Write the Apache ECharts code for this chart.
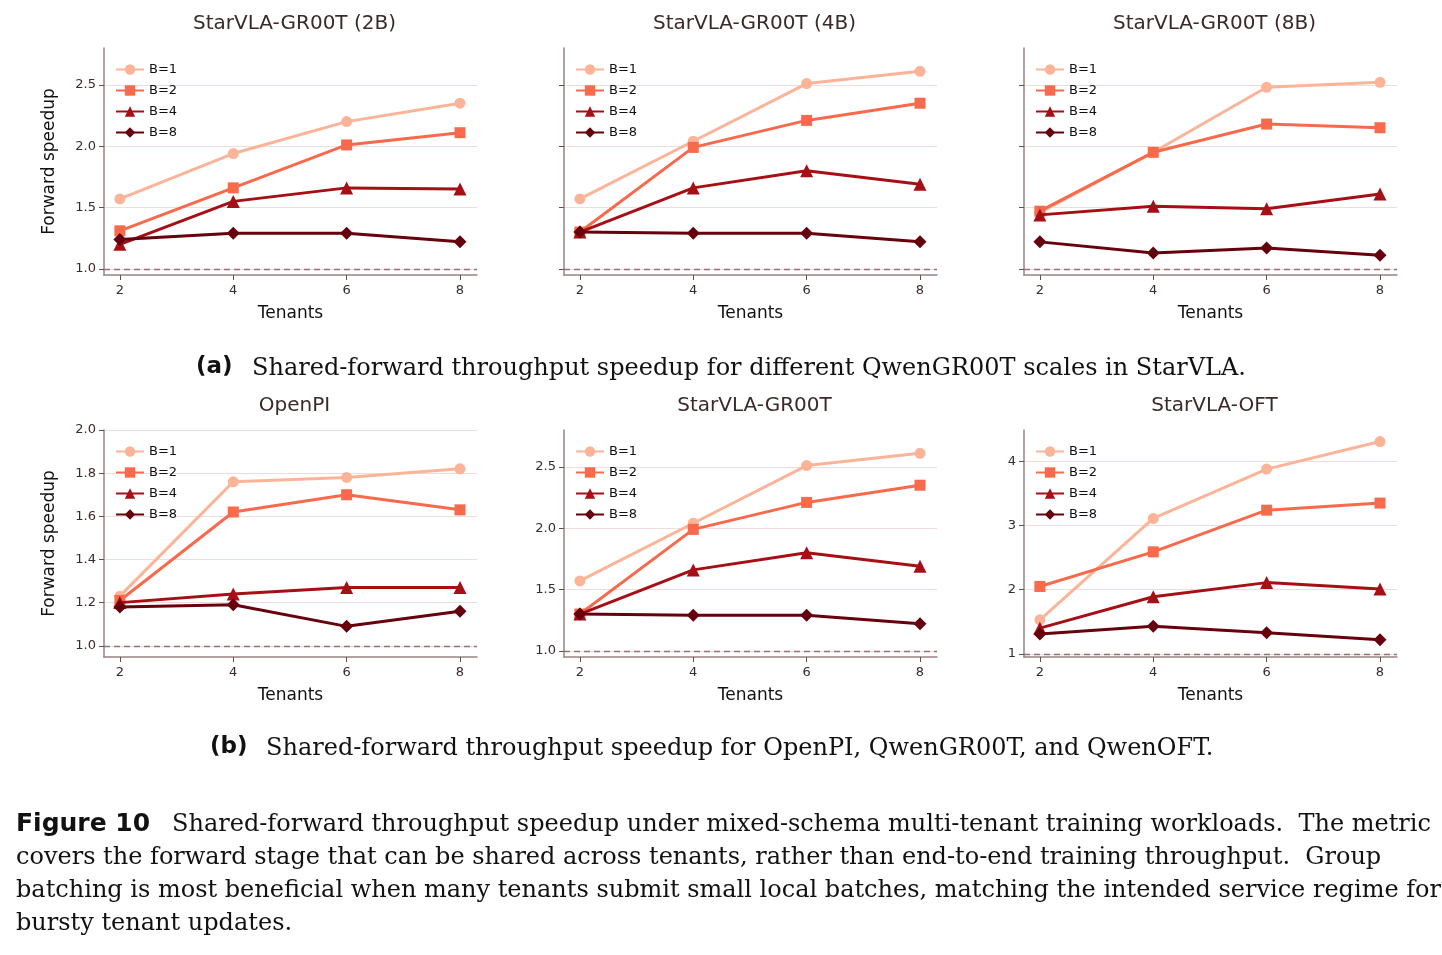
<!DOCTYPE html>
<html>
<head>
<meta charset="utf-8">
<script src="https://cdn.jsdelivr.net/npm/echarts@6/dist/echarts.min.js"></script>
<style>
body { margin: 0; background: #fff; }
#chart { width: 1442px; height: 955px; }
</style>
</head>
<body>
<div id="chart"></div>
<script>
var tenants = [2, 4, 6, 8];
var batchNames = ['B=1', 'B=2', 'B=4', 'B=8'];
var batchColors = ['#fcb499', '#f9694c', '#a50f15', '#67000d'];
var batchSymbols = ['circle', 'rect', 'triangle', 'diamond'];

var titles = ['StarVLA-GR00T (2B)', 'StarVLA-GR00T (4B)', 'StarVLA-GR00T (8B)', 'OpenPI', 'StarVLA-GR00T', 'StarVLA-OFT'];

var gr2b = [[1.57, 1.94, 2.20, 2.35], [1.31, 1.66, 2.01, 2.11], [1.20, 1.55, 1.66, 1.65], [1.24, 1.29, 1.29, 1.22]];
var gr4b = [[1.57, 2.04, 2.51, 2.61], [1.30, 1.99, 2.21, 2.35], [1.30, 1.66, 1.80, 1.69], [1.30, 1.29, 1.29, 1.22]];
var gr8b = [[1.46, 1.95, 2.48, 2.52], [1.47, 1.95, 2.18, 2.15], [1.44, 1.51, 1.49, 1.61], [1.22, 1.13, 1.17, 1.11]];
var openpi = [[1.23, 1.76, 1.78, 1.82], [1.21, 1.62, 1.70, 1.63], [1.20, 1.24, 1.27, 1.27], [1.18, 1.19, 1.09, 1.16]];
var gr00t = [[1.57, 2.04, 2.51, 2.61], [1.30, 1.99, 2.21, 2.35], [1.30, 1.66, 1.80, 1.69], [1.30, 1.29, 1.29, 1.22]];
var oft = [[1.53, 3.11, 3.88, 4.31], [2.05, 2.59, 3.24, 3.35], [1.40, 1.89, 2.11, 2.01], [1.31, 1.43, 1.33, 1.22]];
var panels = [gr2b, gr4b, gr8b, openpi, gr00t, oft];

var yTicks = [
	[1.0, 1.5, 2.0, 2.5], [1.0, 1.5, 2.0, 2.5], [1.0, 1.5, 2.0, 2.5],
	[1.0, 1.2, 1.4, 1.6, 1.8, 2.0], [1.0, 1.5, 2.0, 2.5], [1, 2, 3, 4]
];
var yRange = [[0.95, 2.8], [0.95, 2.8], [0.95, 2.8], [0.948, 2.0], [0.95, 2.8], [0.95, 4.49]];
var yLabelShown = [true, false, false, true, true, true];
var yFmt = [1, 1, 1, 1, 1, 0];

var lefts = [104, 564, 1024];
var tops = [48, 430];
var gw = 373, gh = 227;
var sans = 'DejaVu Sans';
var ink = '#3b2a2a';

var grids = [], xAxes = [], yAxes = [], series = [], legends = [], graphics = [];
for (var p = 0; p < 6; p++) {
	var col = p % 3, row = Math.floor(p / 3);
	grids.push({ left: lefts[col], top: tops[row], width: gw, height: gh });
	xAxes.push({
		gridIndex: p, type: 'value', min: 1.72, max: 8.3,
		name: 'Tenants', nameLocation: 'middle', nameGap: 30,
		nameTextStyle: { fontFamily: sans, fontSize: 17, color: '#111' },
		axisLine: { lineStyle: { color: '#9a8383', width: 1.5 } },
		axisTick: { customValues: tenants, length: 5, lineStyle: { color: '#555' } },
		axisLabel: { customValues: tenants, fontFamily: sans, fontSize: 13, color: ink, margin: 9 },
		splitLine: { show: false }
	});
	yAxes.push({
		gridIndex: p, type: 'value', min: yRange[p][0], max: yRange[p][1],
		name: (col === 0 ? 'Forward speedup' : ''), nameLocation: 'middle', nameGap: 46,
		nameTextStyle: { fontFamily: sans, fontSize: 17, color: '#111' },
		axisLine: { show: true, lineStyle: { color: '#9a8383', width: 1.5 } },
		axisTick: { show: true, customValues: yTicks[p], length: 5, lineStyle: { color: '#555' } },
		axisLabel: {
			show: yLabelShown[p], customValues: yTicks[p], fontFamily: sans, fontSize: 13, color: ink,
			formatter: (function (d) { return function (v) { return v.toFixed(d); }; })(yFmt[p])
		},
		splitLine: { show: true, customValues: yTicks[p], lineStyle: { color: '#f0dcdc', width: 1.2 } }
	});
	for (var b = 0; b < 4; b++) {
		var s = {
			name: batchNames[b], type: 'line', xAxisIndex: p, yAxisIndex: p,
			data: tenants.map(function (t, i) { return [t, panels[p][b][i]]; }),
			symbol: batchSymbols[b], symbolSize: b === 2 ? 13 : (b === 3 ? 13 : 11),
			lineStyle: { color: batchColors[b], width: 3 },
			itemStyle: { color: batchColors[b] },
			z: 3 + b
		};
		if (b === 0) {
			s.markLine = {
				silent: true, symbol: 'none', label: { show: false },
				lineStyle: { type: [6, 4], color: '#9a7070', width: 1.3 },
				data: [{ yAxis: 1 }]
			};
		}
		series.push(s);
	}
	legends.push({
		left: lefts[col] + 6, top: tops[row] + 10, orient: 'vertical',
		itemWidth: 28, itemHeight: 13, itemGap: 8,
		textStyle: { fontFamily: sans, fontSize: 13, color: '#111' },
		data: batchNames
	});
	graphics.push({
		type: 'text', x: lefts[col] + gw / 2 + 4, y: tops[row] - 24,
		style: { text: titles[p], font: '20px DejaVu Sans', fill: ink, textAlign: 'center', textVerticalAlign: 'middle' }
	});
}

var serif = 'DejaVu Serif';
graphics.push(
	{ type: 'text', left: 196, top: 356, style: { text: '(a)', font: 'bold 23px DejaVu Sans', fill: '#111' } },
	{ type: 'text', left: 252, top: 357, style: { text: 'Shared-forward throughput speedup for different QwenGR00T scales in StarVLA.', font: '24px ' + serif, fill: '#111' } },
	{ type: 'text', left: 210, top: 736, style: { text: '(b)', font: 'bold 23px DejaVu Sans', fill: '#111' } },
	{ type: 'text', left: 266, top: 737, style: { text: 'Shared-forward throughput speedup for OpenPI, QwenGR00T, and QwenOFT.', font: '24px ' + serif, fill: '#111' } },
	{ type: 'text', left: 16, top: 812, style: { text: 'Figure 10', font: 'bold 25px DejaVu Sans', fill: '#111' } },
	{ type: 'text', left: 172, top: 813, style: { text: 'Shared-forward throughput speedup under mixed-schema multi-tenant training workloads.  The metric', font: '24px ' + serif, fill: '#111' } },
	{ type: 'text', left: 16, top: 846, style: { text: 'covers the forward stage that can be shared across tenants, rather than end-to-end training throughput.  Group', font: '24px ' + serif, fill: '#111' } },
	{ type: 'text', left: 16, top: 879, style: { text: 'batching is most beneficial when many tenants submit small local batches, matching the intended service regime for', font: '24px ' + serif, fill: '#111' } },
	{ type: 'text', left: 16, top: 912, style: { text: 'bursty tenant updates.', font: '24px ' + serif, fill: '#111' } }
);

var myChart = echarts.init(document.getElementById('chart'));
myChart.setOption({
	animation: false,
	grid: grids,
	xAxis: xAxes,
	yAxis: yAxes,
	legend: legends,
	series: series,
	graphic: graphics
});
</script>
</body>
</html>
